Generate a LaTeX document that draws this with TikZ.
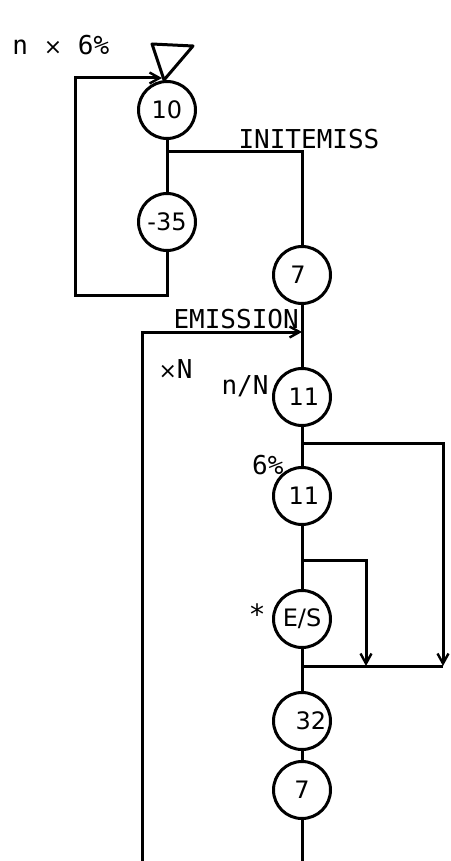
\documentclass[tikz,border=0pt]{standalone}
\usepackage{fontspec}
\newfontfamily\monof{DejaVu Sans Mono}
\newfontfamily\sansf{DejaVu Sans}
\usetikzlibrary{arrows.meta}
\begin{document}
\begin{tikzpicture}[x=1pt,y=-1pt,
  line width=3pt,
  blk/.style={circle,draw,line width=3pt,minimum size=57pt,inner sep=0pt,font=\sansf\fontsize{24}{24}\selectfont},
  lbl/.style={font=\monof\fontsize{26}{26}\selectfont,inner sep=0pt},
  arr/.style={-{Straight Barb[length=10pt,width=11pt,line width=2.4pt]}}]
\useasboundingbox (0,0) rectangle (450,861);
% triangle
\draw[line join=round] (152,44) -- (193,46) -- (164,80) -- cycle;
% nodes
\node[blk] (n10) at (167,110) {10};
\node[blk] (n35) at (167,222) {-35};
\node[blk] (n7a) at (302,275) {\hspace*{-8pt}7};
\node[blk] (n11a) at (302,397) {\hspace*{4pt}11};
\node[blk] (n11b) at (302,496) {\hspace*{4pt}11};
\node[blk] (nes) at (302,619) {E/S};
\node[blk] (n32) at (302,721) {\hspace*{18pt}32};
\node[blk] (n7b) at (302,790) {7};
% labels
\node[lbl,anchor=west] (lnx) at (11,45) {n {\sansf\fontsize{22}{22}\selectfont×} 6\%};
\node[lbl,anchor=west] (linit) at (237,139) {INITEMISS};
\node[lbl,anchor=west] (lemis) at (172,319) {EMISSION};
\node[lbl,anchor=west] (lxn) at (157,369) {{\sansf\fontsize{22}{22}\selectfont×}N};
\node[lbl,anchor=east] (lnn) at (270,386) {n/N};
\node[lbl,anchor=east] (l6) at (285,465) {6\%};
\node[font=\sansf\fontsize{28}{28}\selectfont,inner sep=0pt] (lstar) at (257,614) {*};
% coordinates
\coordinate (ja) at (167,152);
\coordinate (jb) at (302,152);
\coordinate (lb1) at (167,295);
\coordinate (lb2) at (75,295);
\coordinate (lb3) at (75,78);
\coordinate (lb4) at (162,78);
\coordinate (e1) at (142,861);
\coordinate (e2) at (142,332);
\coordinate (e3) at (302,332);
\coordinate (r1) at (302,443);
\coordinate (r2) at (443,443);
\coordinate (r3) at (443,666);
\coordinate (s1) at (302,560);
\coordinate (s2) at (366,560);
\coordinate (s3) at (366,666);
\coordinate (m1) at (302,666);
\coordinate (bot) at (302,861);
% connectors
\draw (n10) -- (n35);
\draw (ja) -- (jb) -- (n7a.north);
\draw[arr] (n35.south) -- (lb1) -- (lb2) -- (lb3) -- (lb4);
\draw (n7a.south) -- (n11a.north);
\draw[arr] (e1) -- (e2) -- (e3);
\draw (n11a) -- (n11b);
\draw[arr] (r1) -- (r2) -- (r3);
\draw (n11b) -- (nes);
\draw[arr] (s1) -- (s2) -- (s3);
\draw (nes) -- (n32);
\draw (m1) -- (r3);
\draw (n32) -- (n7b);
\draw (n7b.south) -- (bot);
\end{tikzpicture}
\end{document}
